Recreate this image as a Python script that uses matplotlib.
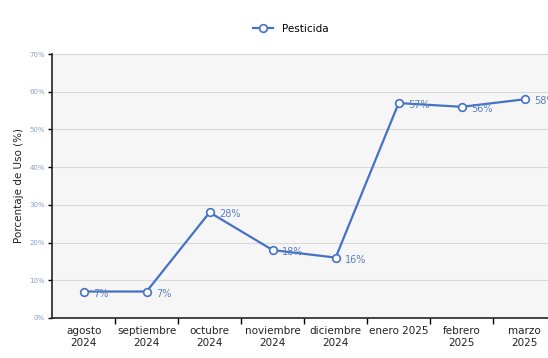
import matplotlib.pyplot as plt
import numpy as np

meses = ["agosto\n2024", "septiembre\n2024", "octubre\n2024", "noviembre\n2024",
         "diciembre\n2024", "enero 2025\n", "febrero\n2025", "marzo\n2025"]
uso = [7, 7, 28, 18, 16, 57, 56, 58]
y_ticks = [0, 10, 20, 30, 40, 50, 60, 70]

azul = "#4472C4"

fig = plt.figure(figsize=(5.48, 3.58), dpi=100)
ax = fig.add_axes([0.095, 0.112, 0.92, 0.737])
ax.set_facecolor("#f6f6f6")

x = np.arange(len(meses))
ax.plot(x, uso, color=azul, lw=1.6, marker="o", ms=5.5, mfc="white",
        mec=azul, mew=1.2, label="Pesticida", zorder=3)

for xi, v in zip(x, uso):
    ax.annotate(f"{v}%", (xi, v), xytext=(7, -1.5), textcoords="offset points",
                ha="left", va="center", fontsize=7, color="#5b7fc0", zorder=4)

ax.set_xlim(-0.5, len(meses) - 0.5)
ax.set_ylim(0, 70)
ax.set_yticks(y_ticks)
ax.set_yticklabels([f"{t}%" for t in y_ticks], fontsize=5, color="#8aa0c8")
ax.set_xticks(x)
ax.set_xticklabels(meses, fontsize=7.5, color="#222222")
ax.set_xticks(np.arange(0.5, len(meses) - 0.5, 1), minor=True)
ax.tick_params(axis="x", which="major", length=0, pad=6)
ax.tick_params(axis="x", which="minor", length=4, width=1, direction="out")
ax.tick_params(axis="y", length=3, width=1, pad=2)

ax.grid(axis="y", color="#d9d9d9", lw=0.8)
ax.set_axisbelow(True)
for s in ["top", "right"]:
    ax.spines[s].set_visible(False)
for s in ["left", "bottom"]:
    ax.spines[s].set_color("#222222")
    ax.spines[s].set_linewidth(1.2)

ax.set_ylabel("Porcentaje de Uso (%)", fontsize=7.5, color="#222222", labelpad=4)

fig.legend(loc="center", bbox_to_anchor=(0.53, 0.92), frameon=False,
           fontsize=7.5, handlelength=2)

fig.savefig("out.png", dpi=100)
